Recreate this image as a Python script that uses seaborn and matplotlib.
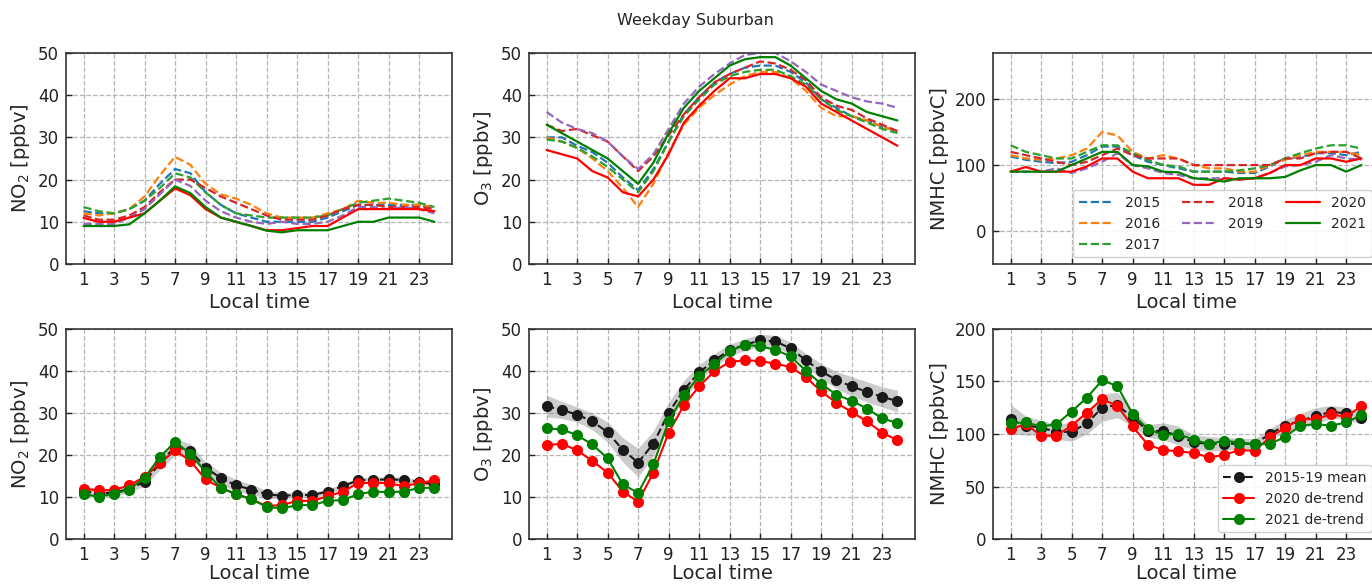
import numpy as np
import pandas as pd
import matplotlib
matplotlib.use("Agg")
import matplotlib.pyplot as plt
import seaborn as sns

# hours of the day
hours = list(range(1, 25))
years = ["2015", "2016", "2017", "2018", "2019", "2020", "2021"]

# ---- top row: yearly weekday diurnal cycles ----
no2_years = {
    "2015": [12.5, 12, 12, 13, 15, 19, 22.5, 21.5, 17, 14, 12, 11, 10, 10, 10, 10, 11, 12.5, 14, 14, 14, 14, 14, 13],
    "2016": [12, 11.5, 12, 13, 16, 21, 25.4, 23.5, 19, 16.5, 15.5, 14, 12, 11, 11, 11, 12, 13, 15, 14.5, 14.5, 14, 14, 13.5],
    "2017": [13.5, 12.5, 12, 13, 15, 18, 21.5, 20.5, 17, 14, 12, 11.5, 11, 11, 11, 11, 11.5, 13, 14.5, 15, 15.5, 15, 14.5, 13.5],
    "2018": [11.5, 10.5, 10.5, 11.5, 13.5, 17, 20, 20, 18, 16, 14.5, 13, 11.5, 10.5, 10.5, 10.5, 11.5, 13, 14, 14, 13.5, 13.5, 13.5, 13],
    "2019": [9.5, 9.5, 9.5, 11, 13, 16.5, 20, 18.5, 15, 12.5, 11, 10, 9.5, 10, 9.5, 9.5, 10, 11.5, 13.5, 13.5, 13, 13.5, 13, 12],
    "2020": [10.9, 10, 10, 11, 12, 15, 17.9, 16.3, 13, 11, 10, 9, 8, 8, 8.5, 9, 9, 11, 13, 13, 13, 13, 13, 12.5],
    "2021": [9, 9, 9, 9.4, 12, 15, 18.4, 16.8, 13.5, 11, 10, 9, 7.9, 7.5, 8, 8, 8, 9, 10, 10, 11, 11, 11, 10],
}
o3_years = {
    "2015": [30, 30, 28, 26.5, 24, 20.5, 17.5, 22.5, 29, 35.5, 39.5, 43, 45, 46.5, 47, 47, 45.5, 43, 39, 37, 35, 34, 32.5, 31.5],
    "2016": [30, 29, 27.5, 25, 22, 18, 13.5, 19, 26.5, 33, 37, 40, 42.5, 44.5, 45.5, 45.5, 44, 41, 37, 35, 35, 34, 32.5, 31.5],
    "2017": [29.5, 29, 27.5, 25.5, 23, 20, 17, 22, 29, 35, 39, 42.5, 44.5, 45.5, 46, 46, 44.5, 42.5, 39, 36.5, 35, 33.5, 32, 31],
    "2018": [33, 31.5, 32, 30.5, 29, 25.5, 22, 25.5, 30.5, 35.5, 39.5, 43, 45, 46.5, 48, 47.5, 46, 43.5, 39.5, 37.5, 36.5, 34.5, 33, 31.5],
    "2019": [36, 33.5, 32, 31, 29, 25.5, 22.5, 26, 32, 38, 42, 45, 47.5, 49.5, 50, 50, 48, 45.5, 42.5, 41, 39.5, 38.5, 38, 37],
    "2020": [27, 26, 25, 22, 20.5, 17, 16, 20, 26, 33.5, 37.5, 41, 44, 44, 45, 45, 44, 42, 38, 36, 34, 32, 30, 28],
    "2021": [33, 31, 29, 27, 25, 22, 19, 24, 31, 37, 41, 44, 47, 48.5, 49, 49, 47, 44, 41, 39, 38, 36, 35, 34],
}
nmhc_years = {
    "2015": [113, 108, 105, 103, 105, 115, 128, 128, 115, 105, 100, 95, 90, 90, 90, 88, 88, 98, 110, 112, 118, 118, 115, 120],
    "2016": [115, 110, 108, 110, 115, 125, 150, 145, 120, 110, 115, 110, 100, 95, 95, 90, 90, 100, 108, 115, 120, 120, 120, 115],
    "2017": [130, 120, 115, 110, 110, 120, 130, 130, 118, 108, 100, 98, 90, 90, 90, 92, 95, 100, 110, 118, 125, 130, 130, 125],
    "2018": [120, 115, 110, 105, 100, 105, 115, 125, 115, 110, 110, 110, 100, 100, 100, 100, 100, 100, 110, 110, 118, 120, 120, 110],
    "2019": [90, 90, 90, 95, 88, 95, 105, 118, 100, 95, 88, 85, 80, 80, 80, 78, 80, 88, 98, 100, 105, 115, 110, 108],
    "2020": [90, 97, 90, 90, 90, 98, 110, 110, 90, 80, 80, 80, 70, 70, 80, 78, 80, 88, 100, 100, 110, 110, 105, 110],
    "2021": [90, 90, 90, 90, 100, 110, 120, 120, 100, 98, 90, 89, 80, 78, 75, 80, 80, 80, 82, 92, 100, 100, 90, 100],
}

# ---- bottom row: 2015-19 mean (+/- spread) and de-trended 2020/2021 ----
no2_mean = [11.3, 11, 11, 12, 13.6, 18, 22, 21, 17, 14.5, 12.8, 11.8, 10.7, 10.3, 10.5, 10.5, 11.3, 12.6, 14, 14.1, 14.2, 14.1, 13.6, 13]
no2_spread = [1.3, 1.0, 0.9, 0.8, 1.0, 1.5, 2.1, 1.6, 1.3, 1.4, 1.4, 1.2, 0.9, 0.7, 0.7, 0.7, 0.6, 0.6, 0.6, 0.6, 0.7, 0.6, 0.6, 0.6]
no2_2020 = [12, 11.6, 11.7, 12.8, 14.8, 18, 21.1, 18.6, 14.2, 12.2, 10.7, 9.5, 7.9, 8.1, 9.1, 9.1, 10.2, 11.3, 13.3, 13.4, 13.3, 12.6, 13.3, 14]
no2_2021 = [10.7, 10.1, 10.8, 11.8, 14.6, 19.5, 23.1, 20.3, 16, 12.2, 10.7, 9.5, 7.7, 7.3, 8.1, 8.1, 9.1, 9.3, 10.7, 11.3, 11.2, 11.3, 12.2, 12.2]

o3_mean = [31.6, 30.7, 29.6, 28, 25.4, 21.2, 18.2, 22.7, 30, 35.5, 39.6, 42.5, 44.9, 46.2, 47.2, 47, 45.3, 42.5, 39.9, 37.8, 36.3, 35, 33.8, 32.8]
o3_spread = [2.6, 2.0, 1.8, 2.0, 2.4, 2.9, 3.4, 3.0, 2.5, 2.2, 1.9, 1.6, 1.4, 1.4, 1.5, 1.4, 1.5, 1.6, 1.8, 2.0, 2.3, 2.4, 2.4, 2.6]
o3_2020 = [22.3, 22.7, 21.1, 18.6, 15.8, 11.3, 8.9, 15.8, 25.3, 31.8, 36.3, 39.9, 42.1, 42.5, 42.3, 41.7, 40.9, 38.5, 35.1, 32.4, 30.2, 28, 25.3, 23.5]
o3_2021 = [26.3, 26.1, 24.7, 22.5, 19.2, 13, 11, 17.8, 28, 34.2, 38.7, 41.6, 44.6, 46.2, 45.8, 45, 43.4, 40, 36.9, 34.3, 32.9, 31, 28.7, 27.6]

nmhc_mean = [114, 108, 106, 102, 102, 110, 125, 127.5, 115.5, 103, 102.5, 98.5, 92, 90.5, 90.5, 91, 90.5, 100, 108, 112.5, 117, 121, 119.5, 115.5]
nmhc_spread = [14, 9, 7, 7, 9, 10, 13, 12, 8, 6, 8, 9, 7, 7, 6, 5, 5, 5, 6, 7, 8, 6, 6, 6]
nmhc_2020 = [104.6, 109.3, 98.4, 98.4, 107.9, 120.3, 133, 126.6, 107.1, 89.8, 84.7, 83.5, 81.9, 77.8, 80, 84.7, 84, 96.7, 106.1, 114, 114, 118.7, 116.2, 126.6]
nmhc_2021 = [110.2, 110.9, 107.1, 109.3, 121.3, 134.5, 150.9, 145.5, 118.7, 104.6, 99.2, 100, 94.5, 90.4, 93.6, 91.7, 90.4, 90.4, 97.3, 107.9, 109.3, 107.9, 110.9, 118]

year_colors = {"2015": "tab:blue", "2016": "tab:orange", "2017": "tab:green",
               "2018": "tab:red", "2019": "tab:purple", "2020": "red", "2021": "green"}

sns.set_theme(style="ticks")
plt.rcParams["font.family"] = ["DejaVu Sans"]

fig = plt.figure(figsize=(13.72, 5.88), dpi=100)
fig.text(0.507, 0.965, "Weekday Suburban", ha="center", va="center", fontsize=11.5)

lefts = [0.0481, 0.3856, 0.7238]
w = 0.2813
top_axes = [fig.add_axes([l, 0.551, w, 0.359]) for l in lefts]
bot_axes = [fig.add_axes([l, 0.083, w, 0.358]) for l in lefts]


def style_axis(ax, ylabel, ylim, yticks, xpad=3):
    ax.set_xlim(-0.15, 25.15)
    ax.set_ylim(*ylim)
    ax.set_xticks(range(1, 24, 2))
    ax.set_yticks(yticks)
    ax.set_xlabel("Local time", fontsize=14, labelpad=xpad)
    ax.set_ylabel(ylabel, fontsize=14, labelpad=4)
    ax.tick_params(direction="in", labelsize=12, length=4, width=1, colors="#222222", pad=5)
    ax.grid(True, linestyle="--", color="#b5b5b5", linewidth=0.9)
    ax.set_axisbelow(True)
    for s in ax.spines.values():
        s.set_color("#333333")
        s.set_linewidth(1.2)


# top row
top_sets = [(no2_years, "NO$_2$ [ppbv]", (0, 50), [0, 10, 20, 30, 40, 50]),
            (o3_years, "O$_3$ [ppbv]", (0, 50), [0, 10, 20, 30, 40, 50]),
            (nmhc_years, "NMHC [ppbvC]", (-50, 270), [0, 100, 200])]
for ax, (data, lab, lim, ticks) in zip(top_axes, top_sets):
    for yr in years:
        ls = "--" if int(yr) < 2020 else "-"
        sns.lineplot(x=hours, y=data[yr], ax=ax, color=year_colors[yr],
                     linestyle=ls, linewidth=1.6, label=yr, legend=False)
    style_axis(ax, lab, lim, ticks)

top_axes[2].legend(loc="lower right", ncol=3, fontsize=10, handlelength=2.5,
                   columnspacing=1.6, framealpha=0.9, edgecolor="#cccccc")

# bottom row
bot_sets = [(no2_mean, no2_spread, no2_2020, no2_2021, "NO$_2$ [ppbv]", (0, 50), [0, 10, 20, 30, 40, 50]),
            (o3_mean, o3_spread, o3_2020, o3_2021, "O$_3$ [ppbv]", (0, 50), [0, 10, 20, 30, 40, 50]),
            (nmhc_mean, nmhc_spread, nmhc_2020, nmhc_2021, "NMHC [ppbvC]", (0, 200), [0, 50, 100, 150, 200])]
for ax, (m, sp, y20, y21, lab, lim, ticks) in zip(bot_axes, bot_sets):
    m = np.array(m)
    sp = np.array(sp)
    ax.fill_between(hours, m - sp, m + sp, color="grey", alpha=0.4, linewidth=0)
    sns.lineplot(x=hours, y=m, ax=ax, color="#1a1a1a", linestyle="--", linewidth=1.5,
                 marker="o", markersize=8, markeredgewidth=0, label="2015-19 mean", legend=False)
    sns.lineplot(x=hours, y=y20, ax=ax, color="red", linewidth=1.5,
                 marker="o", markersize=8, markeredgewidth=0, label="2020 de-trend", legend=False)
    sns.lineplot(x=hours, y=y21, ax=ax, color="green", linewidth=1.5,
                 marker="o", markersize=8, markeredgewidth=0, label="2021 de-trend", legend=False)
    style_axis(ax, lab, lim, ticks, xpad=0)

bot_axes[2].legend(loc="lower right", fontsize=10, handlelength=2.2,
                   framealpha=0.9, edgecolor="#cccccc")

fig.savefig("out.png", dpi=100)
